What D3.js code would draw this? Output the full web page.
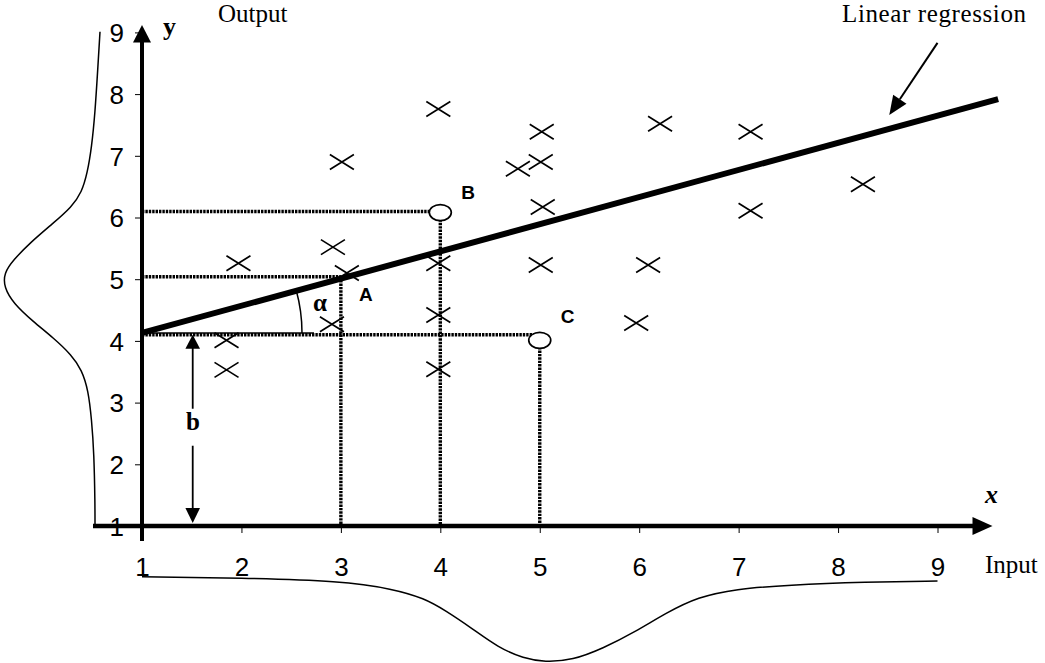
<!DOCTYPE html>
<html>
<head>
<meta charset="utf-8">
<script src="https://cdn.jsdelivr.net/npm/d3@7"></script>
<style>
  html, body { margin: 0; padding: 0; background: #fff; }
  svg { display: block; }
</style>
</head>
<body>
<svg id="chart" width="1045" height="663"></svg>
<script>
// ---------------- data ----------------
const xTicks = [1, 2, 3, 4, 5, 6, 7, 8, 9];
const yTicks = [1, 2, 3, 4, 5, 6, 7, 8, 9];

// observed samples (crosses)
const sampleX = [3.98, 3.01, 5.02, 5.01, 4.78, 6.21, 7.12, 8.25, 7.12, 5.03, 1.97, 2.92, 3.06, 3.98, 5.01, 6.09, 2.91, 3.98, 5.97, 1.85, 1.85, 3.98];
const sampleY = [7.76, 6.90, 7.39, 6.90, 6.79, 7.52, 7.39, 6.54, 6.11, 6.17, 5.26, 5.52, 5.10, 5.26, 5.23, 5.23, 4.27, 4.42, 4.29, 4.01, 3.53, 3.54];

// regression line endpoints
const regX = [1, 9.61];
const regY = [4.13, 7.92];

// highlighted points
const pointNames = ["A", "B", "C"];
const pointX = [3, 4, 5];
const pointY = [5.04, 6.08, 4.01];
const interceptLevel = 4.1; // b level

// output density (left), [y value, relative density]
const outputDensityY = [9.01, 8.39, 7.69, 7.14, 6.72, 6.41, 6.17, 5.91, 5.59, 5.31, 5.10, 4.87, 4.61, 4.31, 4.05, 3.77, 3.53, 3.20, 2.72, 2.18, 1.37, 0.97];
const outputDensity  = [0, 0.024, 0.052, 0.087, 0.132, 0.19, 0.295, 0.486, 0.729, 0.903, 1.0, 1.0, 0.903, 0.694, 0.486, 0.295, 0.19, 0.122, 0.087, 0.0625, 0.052, 0.052];

// input density (bottom), [x value, relative density]
const inputDensityX = [1.0, 2.0, 3.0, 3.525, 3.84, 4.05, 4.32, 4.58, 4.84, 5.05, 5.33, 5.64, 5.96, 6.27, 6.59, 6.97, 7.49, 8.28, 9.0];
const inputDensity  = [0.008, 0.023, 0.058, 0.15, 0.26, 0.40, 0.61, 0.83, 0.96, 1.0, 0.98, 0.84, 0.65, 0.43, 0.244, 0.151, 0.105, 0.07, 0.058];

// annotation arrow for "Linear regression" [start, tip] in data units
const annArrowX = [9.0, 8.515];
const annArrowY = [8.83, 7.66];

// b arrow
const bArrowX = 1.51;

// ---------------- drawing ----------------
const svg = d3.select("#chart");
const sans = "'Liberation Sans', Arial, sans-serif";
const serif = "'Liberation Serif', 'Times New Roman', serif";

const x = d3.scaleLinear().domain([1, 9]).range([142, 937.5]);
const y = d3.scaleLinear().domain([1, 9]).range([526, 32.4]);

const densL = d3.scaleLinear().domain([0, 1]).range([100, 4]);
const densB = d3.scaleLinear().domain([0, 1]).range([576, 662]);

// density curves
const leftPts = outputDensityY.map((v, i) => [v, outputDensity[i]]);
svg.append("path")
  .attr("d", d3.line().x(d => densL(d[1])).y(d => y(d[0])).curve(d3.curveBasis)(leftPts))
  .attr("fill", "none").attr("stroke", "#000").attr("stroke-width", 1.5);

const bottomPts = inputDensityX.map((v, i) => [v, inputDensity[i]]);
svg.append("path")
  .attr("d", d3.line().x(d => x(d[0])).y(d => densB(d[1])).curve(d3.curveBasis)(bottomPts))
  .attr("fill", "none").attr("stroke", "#000").attr("stroke-width", 1.5);

// axes ticks and labels
const yAxis = svg.append("g").attr("transform", `translate(${x(1)},0)`)
  .call(d3.axisLeft(y).tickValues(yTicks).tickSize(7).tickPadding(11).tickFormat(d3.format("d")));
yAxis.select(".domain").remove();
yAxis.selectAll("text").attr("font-family", sans).attr("font-size", 26).attr("fill", "#000").attr("dy", "0.36em");
yAxis.selectAll("line").attr("stroke", "#000").attr("stroke-width", 1);

const xAxis = svg.append("g").attr("transform", `translate(0,${y(1)})`)
  .call(d3.axisBottom(x).tickValues(xTicks).tickSize(7).tickPadding(25).tickFormat(d3.format("d")));
xAxis.select(".domain").remove();
xAxis.selectAll("text").attr("font-family", sans).attr("font-size", 26).attr("fill", "#000");
xAxis.selectAll("line").attr("stroke", "#000").attr("stroke-width", 1);

// dotted guide lines
const dotted = g => g.attr("stroke", "#000").attr("stroke-width", 3.4).attr("stroke-dasharray", "2.4,1").attr("fill", "none");
// A
svg.append("line").attr("x1", x(1)).attr("x2", x(pointX[0])).attr("y1", y(pointY[0])).attr("y2", y(pointY[0])).call(dotted);
svg.append("line").attr("x1", x(pointX[0])).attr("x2", x(pointX[0])).attr("y1", y(pointY[0])).attr("y2", y(1)).call(dotted);
// B
svg.append("line").attr("x1", x(1)).attr("x2", x(pointX[1]) - 8).attr("y1", y(pointY[1]) - 1).attr("y2", y(pointY[1]) - 1).call(dotted);
svg.append("line").attr("x1", x(pointX[1])).attr("x2", x(pointX[1])).attr("y1", y(pointY[1])).attr("y2", y(1)).call(dotted);
// C (at intercept level)
svg.append("line").attr("x1", x(1)).attr("x2", x(pointX[2]) - 3).attr("y1", y(interceptLevel)).attr("y2", y(interceptLevel)).call(dotted);
svg.append("line").attr("x1", x(pointX[2])).attr("x2", x(pointX[2])).attr("y1", y(pointY[2])).attr("y2", y(1)).call(dotted);

// crosses
const crossPath = "M-12,-7.5L12,7.5M-12,7.5L12,-7.5";
svg.append("g").selectAll("path").data(sampleX.map((v, i) => [v, sampleY[i]])).join("path")
  .attr("transform", d => `translate(${x(d[0])},${y(d[1])})`)
  .attr("d", crossPath).attr("stroke", "#000").attr("stroke-width", 1.7).attr("fill", "none");

// thin horizontal base line for angle
const x0 = x(regX[0]), y0 = y(regY[0]);
svg.append("line").attr("x1", x0).attr("x2", x0 + 172).attr("y1", y0).attr("y2", y0)
  .attr("stroke", "#000").attr("stroke-width", 1.5);

// angle arc
const ang = Math.atan2(y(regY[0]) - y(regY[1]), x(regX[1]) - x(regX[0]));
const r = 160;
svg.append("path")
  .attr("d", `M${x0 + r},${y0} A${r},${r} 0 0 0 ${x0 + r * Math.cos(ang)},${y0 - r * Math.sin(ang)}`)
  .attr("fill", "none").attr("stroke", "#000").attr("stroke-width", 1.5);

// regression line
svg.append("line")
  .attr("x1", x(regX[0])).attr("y1", y(regY[0])).attr("x2", x(regX[1])).attr("y2", y(regY[1]))
  .attr("stroke", "#000").attr("stroke-width", 6);

// circles for B and C
[1, 2].forEach(i => {
  svg.append("ellipse").attr("cx", x(pointX[i])).attr("cy", y(pointY[i]))
    .attr("rx", 11).attr("ry", 8).attr("fill", "#fff").attr("stroke", "#000").attr("stroke-width", 1.7);
});

// main axis lines with arrowheads
const axisLeftEnd = 93;
svg.append("line").attr("x1", axisLeftEnd).attr("x2", x(9) + 37).attr("y1", y(1)).attr("y2", y(1))
  .attr("stroke", "#000").attr("stroke-width", 4.5);
svg.append("path").attr("d", `M${x(9) + 35},${y(1) - 9}L${x(9) + 55},${y(1)}L${x(9) + 35},${y(1) + 9}Z`).attr("fill", "#000");
svg.append("line").attr("x1", x(1)).attr("x2", x(1)).attr("y1", y(1) + 15).attr("y2", y(9) + 8)
  .attr("stroke", "#000").attr("stroke-width", 4);
svg.append("path").attr("d", `M${x(1) - 9},${y(9) + 10}L${x(1)},${y(9) - 7.5}L${x(1) + 9},${y(9) + 10}Z`).attr("fill", "#000");

// b double arrow
const bx = x(bArrowX);
const bTop = y(interceptLevel), bBot = y(1) - 3;
svg.append("line").attr("x1", bx).attr("x2", bx).attr("y1", bTop + 12).attr("y2", bTop + 74).attr("stroke", "#000").attr("stroke-width", 1.8);
svg.append("line").attr("x1", bx).attr("x2", bx).attr("y1", bTop + 111).attr("y2", bBot - 12).attr("stroke", "#000").attr("stroke-width", 1.8);
svg.append("path").attr("d", `M${bx - 7.3},${bTop + 14}L${bx},${bTop}L${bx + 7.3},${bTop + 14}Z`).attr("fill", "#000");
svg.append("path").attr("d", `M${bx - 7.3},${bBot - 15}L${bx},${bBot}L${bx + 7.3},${bBot - 15}Z`).attr("fill", "#000");

// annotation arrow
const ax1 = x(annArrowX[0]), ay1 = y(annArrowY[0]), ax2 = x(annArrowX[1]), ay2 = y(annArrowY[1]);
const aa = Math.atan2(ay2 - ay1, ax2 - ax1);
const hl = 19, hw = 8;
const bxp = ax2 - hl * Math.cos(aa), byp = ay2 - hl * Math.sin(aa);
svg.append("line").attr("x1", ax1).attr("y1", ay1).attr("x2", bxp).attr("y2", byp).attr("stroke", "#000").attr("stroke-width", 2);
svg.append("path").attr("d",
  `M${ax2},${ay2}L${bxp + hw * Math.sin(aa)},${byp - hw * Math.cos(aa)}L${bxp - hw * Math.sin(aa)},${byp + hw * Math.cos(aa)}Z`)
  .attr("fill", "#000");

// text labels
const txt = (s, tx, ty, fam, size, weight, style) => svg.append("text").text(s)
  .attr("x", tx).attr("y", ty).attr("font-family", fam).attr("font-size", size)
  .attr("font-weight", weight || "normal").attr("font-style", style || "normal").attr("fill", "#000");

txt("Output", 218, 22, serif, 25);
txt("Linear regression", 842, 22, serif, 25).attr("textLength", 184);
txt("Input", 985, 573, serif, 25);
txt("y", 163, 35, serif, 26, "bold");
txt("x", 985, 503, serif, 26, "bold", "italic");
txt("b", 186, 430, serif, 25, "bold");
txt("α", 313, 311, serif, 25, "bold");

txt(pointNames[0], x(pointX[0]) + 18, y(pointY[0]) + 24, sans, 19, "bold");
txt(pointNames[1], x(pointX[1]) + 21, y(pointY[1]) - 14, sans, 19, "bold");
txt(pointNames[2], x(pointX[2]) + 21, y(pointY[2]) - 17, sans, 19, "bold");
</script>
</body>
</html>
